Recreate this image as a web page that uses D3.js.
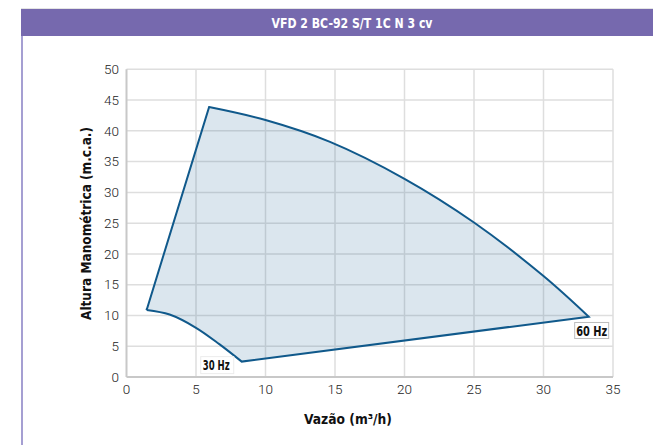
<!DOCTYPE html>
<html>
<head>
<meta charset="utf-8">
<script src="https://cdn.jsdelivr.net/npm/d3@7/dist/d3.min.js"></script>
<style>
  html, body { margin: 0; padding: 0; background: #fff; }
  svg { display: block; }
</style>
</head>
<body>
<svg id="chart" width="653" height="445"></svg>
<script>
// ---- data ----
const title = "VFD 2 BC-92 S/T 1C N 3 cv";
const xLabel = "Vazão (m³/h)";
const yLabel = "Altura Manométrica (m.c.a.)";
const xTicks = [0, 5, 10, 15, 20, 25, 30, 35];
const yTicks = [0, 5, 10, 15, 20, 25, 30, 35, 40, 45, 50];
// 60 Hz curve (flow, head)
const q60 = [5.94, 10, 14.64, 20, 25, 30, 33.25];
const h60 = [43.86, 41.75, 38.2, 32.2, 25.1, 16.4, 9.8];
// 30 Hz curve (flow, head)
const q30 = [1.45, 3.1, 5.0, 6.7, 8.29];
const h30 = [10.9, 10.15, 8.0, 5.3, 2.5];
const labels = ["30 Hz", "60 Hz"];

// ---- layout ----
const svg = d3.select("#chart");
const FB = '"DejaVu Sans Condensed", "Roboto", sans-serif';
const FT = 'Roboto, "Liberation Sans", sans-serif';

const x = d3.scaleLinear().domain([0, 35]).range([126.5, 613]);
const y = d3.scaleLinear().domain([0, 50]).range([377, 69.3]);

function boldText(sel, len) {
  return sel.attr("font-family", FB).attr("font-weight", "bold")
    .attr("textLength", len).attr("lengthAdjust", "spacingAndGlyphs");
}

// header
svg.append("line").attr("x1", 21).attr("x2", 653).attr("y1", 8.5).attr("y2", 8.5)
  .attr("stroke", "#e4e4e4").attr("stroke-width", 1);
svg.append("rect").attr("x", 21).attr("y", 9).attr("width", 632).attr("height", 27)
  .attr("fill", "#7669ae");
svg.append("line").attr("x1", 22).attr("x2", 22).attr("y1", 36).attr("y2", 445)
  .attr("stroke", "#a59fd2").attr("stroke-width", 2);
boldText(svg.append("text").attr("x", 352).attr("y", 27.5).attr("text-anchor", "middle")
  .attr("fill", "#fff").attr("font-size", 13.5), 161).text(title);

// grid
const g = svg.append("g");
g.selectAll(".gx").data(xTicks.slice(1)).enter().append("line")
  .attr("x1", d => x(d)).attr("x2", d => x(d)).attr("y1", y(50)).attr("y2", y(0))
  .attr("stroke", "#dedede").attr("stroke-width", 1.5);
g.selectAll(".gy").data(yTicks.slice(1)).enter().append("line")
  .attr("x1", x(0)).attr("x2", x(35)).attr("y1", d => y(d)).attr("y2", d => y(d))
  .attr("stroke", "#dedede").attr("stroke-width", 1.5);

// envelope path
const pts60 = q60.map((q, i) => [x(q), y(h60[i])]);
const pts30 = q30.map((q, i) => [x(q), y(h30[i])]).reverse();
const curveGen = d3.line().curve(d3.curveCatmullRom.alpha(0.5));
const start = [x(q30[0]), y(h30[0])];
let d = "M" + start[0] + "," + start[1];
d += curveGen(pts60).replace(/^M/, "L");
d += curveGen(pts30).replace(/^M/, "L");
d += "Z";
svg.append("path").attr("d", d)
  .attr("fill", "#0f5a8a").attr("fill-opacity", 0.15)
  .attr("stroke", "#10598b").attr("stroke-width", 2).attr("stroke-linejoin", "miter");

// axes lines
svg.append("line").attr("x1", x(0)).attr("x2", x(35)).attr("y1", y(0)).attr("y2", y(0))
  .attr("stroke", "#c8c8c8").attr("stroke-width", 2);
svg.append("line").attr("x1", x(0)).attr("x2", x(0)).attr("y1", y(50)).attr("y2", y(0))
  .attr("stroke", "#c8c8c8").attr("stroke-width", 2);

// tick labels
svg.selectAll(".xt").data(xTicks).enter().append("text")
  .attr("x", d => x(d)).attr("y", 394).attr("text-anchor", "middle")
  .attr("font-family", FT).attr("font-weight", 300).attr("font-size", 13.5)
  .attr("fill", "#222").text(d => d);
svg.selectAll(".yt").data(yTicks).enter().append("text")
  .attr("x", 119).attr("y", d => y(d) + 4.8).attr("text-anchor", "end")
  .attr("font-family", FT).attr("font-weight", 300).attr("font-size", 13.5)
  .attr("fill", "#222").text(d => d);

// axis titles
boldText(svg.append("text").attr("x", 348).attr("y", 424).attr("text-anchor", "middle")
  .attr("font-size", 14).attr("fill", "#111"), 88).text(xLabel);
boldText(svg.append("text").attr("transform", "translate(90.5,223.5) rotate(-90)")
  .attr("text-anchor", "middle").attr("font-size", 13.5).attr("fill", "#111"), 193).text(yLabel);

// frequency labels
const e30 = [x(q30[q30.length - 1]), y(h30[h30.length - 1])];
const e60 = [x(q60[q60.length - 1]), y(h60[h60.length - 1])];
// 30 Hz
svg.append("rect").attr("x", e30[0] - 41).attr("y", e30[1] - 5).attr("width", 33).attr("height", 17)
  .attr("fill", "#fff").attr("stroke", "#ececec").attr("stroke-width", 1);
boldText(svg.append("text").attr("x", e30[0] - 25.5).attr("y", e30[1] + 8).attr("text-anchor", "middle")
  .attr("font-size", 13.5).attr("fill", "#111"), 27).text(labels[0]);
// 60 Hz
svg.append("rect").attr("x", e60[0] - 14).attr("y", e60[1] + 5.8).attr("width", 34).attr("height", 16)
  .attr("fill", "#fff").attr("stroke", "#bdbdbd").attr("stroke-width", 1);
boldText(svg.append("text").attr("x", e60[0] + 3).attr("y", e60[1] + 19.5).attr("text-anchor", "middle")
  .attr("font-size", 13.5).attr("fill", "#111"), 31).text(labels[1]);
</script>
</body>
</html>
